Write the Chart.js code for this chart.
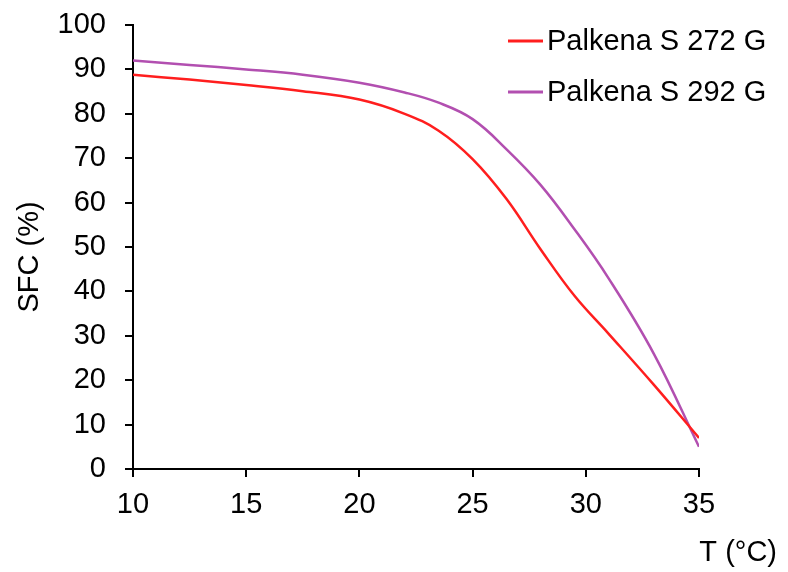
<!DOCTYPE html>
<html>
<head>
<meta charset="utf-8">
<script src="https://cdn.jsdelivr.net/npm/chart.js@4"></script>
<style>
  html, body { margin: 0; padding: 0; background: #fff; }
  #wrap { width: 788px; height: 572px; }
</style>
</head>
<body>
<div id="wrap"><canvas id="c" width="788" height="572"></canvas></div>
<script>
const temps = [10, 12.5, 15, 17.5, 20, 22, 23.5, 25, 26.5, 28, 29.5, 31, 33, 35];
const palkena272 = [88.8, 87.7, 86.5, 85.1, 83.2, 80, 76.2, 69.8, 60.8, 49.5, 39, 30.5, 19, 7];
const palkena292 = [92, 91, 90, 88.8, 87, 84.8, 82.5, 78.8, 72, 64, 54, 43, 26, 5];
const seriesNames = ['Palkena S 272 G', 'Palkena S 292 G'];
const xTitle = 'T (°C)';
const yTitle = 'SFC (%)';

const FONT = "'Liberation Sans', Arial, sans-serif";
const FS = 29;
const colors = ['#FF1E1E', '#B24FB0'];

const toPoints = (xs, ys) => xs.map((x, i) => ({ x: x, y: ys[i] }));

const customText = {
  id: 'customText',
  afterDraw(chart) {
    const ctx = chart.ctx;
    const area = chart.chartArea;
    ctx.save();
    ctx.font = FS + 'px ' + FONT;
    ctx.fillStyle = '#000';
    ctx.textAlign = 'right';
    ctx.textBaseline = 'middle';
    ctx.fillText(xTitle, area.right + 78, area.bottom + 84);
    // y axis title
    ctx.save();
    ctx.translate(30, (area.top + area.bottom) / 2 + 10);
    ctx.rotate(-Math.PI / 2);
    ctx.textAlign = 'center';
    ctx.fillText(yTitle, 0, 0);
    ctx.restore();
    // legend
    const lx = area.left + 375, ly = area.top + 16, gap = 51;
    chart.data.datasets.forEach((ds, i) => {
      const y = ly + i * gap;
      ctx.strokeStyle = ds.borderColor;
      ctx.lineWidth = 3;
      ctx.beginPath();
      ctx.moveTo(lx, y);
      ctx.lineTo(lx + 35, y);
      ctx.stroke();
      ctx.textAlign = 'left';
      ctx.fillText(ds.label, lx + 39, y + 1);
    });
    ctx.restore();
  }
};

const axisGrid = {
  display: true,
  drawOnChartArea: false,
  drawTicks: true,
  tickLength: 8,
  color: '#000',
  lineWidth: 2
};

new Chart(document.getElementById('c'), {
  type: 'line',
  data: {
    datasets: [
      {
        label: seriesNames[0],
        data: toPoints(temps, palkena272),
        borderColor: colors[0],
        borderWidth: 2.5,
        pointRadius: 0,
        tension: 0.4,
        fill: false
      },
      {
        label: seriesNames[1],
        data: toPoints(temps, palkena292),
        borderColor: colors[1],
        borderWidth: 2.5,
        pointRadius: 0,
        tension: 0.4,
        fill: false
      }
    ]
  },
  options: {
    responsive: false,
    animation: false,
    layout: { padding: { left: 0, right: 89, top: 25, bottom: 0 } },
    plugins: {
      legend: { display: false },
      tooltip: { enabled: false }
    },
    scales: {
      x: {
        type: 'linear',
        min: 10,
        max: 35,
        ticks: {
          stepSize: 5,
          color: '#000',
          font: { family: FONT, size: FS },
          padding: 11,
          maxRotation: 0
        },
        grid: axisGrid,
        border: { display: true, color: '#000', width: 2 },
        afterFit(scale) { scale.height = 103; scale.paddingLeft = 0; scale.paddingRight = 0; }
      },
      y: {
        min: 0,
        max: 100,
        ticks: {
          stepSize: 10,
          color: '#000',
          font: { family: FONT, size: FS },
          padding: 19
        },
        grid: axisGrid,
        border: { display: true, color: '#000', width: 2 },
        title: { display: false },
        afterFit(scale) { scale.width = 133; scale.paddingTop = 0; scale.paddingBottom = 0; }
      }
    }
  },
  plugins: [customText]
});
</script>
</body>
</html>
